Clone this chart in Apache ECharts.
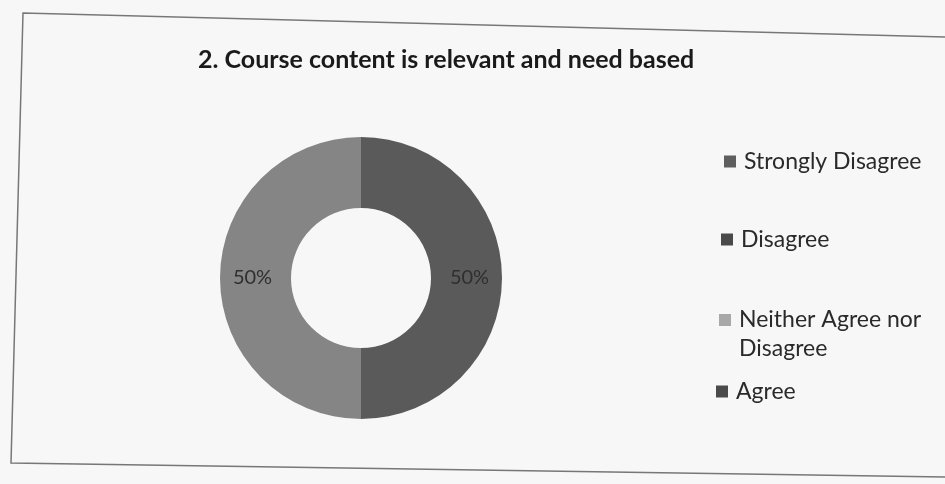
<!DOCTYPE html>
<html>
<head>
<meta charset="utf-8">
<script src="https://cdn.jsdelivr.net/npm/echarts@6/dist/echarts.min.js"></script>
<style>
html,body{margin:0;padding:0;background:#f8f7f7;}
#chart{width:945px;height:484px;}
</style>
</head>
<body>
<div id="chart"></div>
<script>
const titleText = "2. Course content is relevant and need based";
const categories = ["Strongly Disagree", "Disagree", "Neither Agree nor\nDisagree", "Agree"];
const values = [0, 0, 50, 50];
const colors = ["#666666", "#4e4e4e", "#858585", "#5a5a5a"];
const legendColors = ["#5e5e5e", "#4a4a4a", "#a8a8a8", "#4a4a4a"];

const chart = echarts.init(document.getElementById('chart'));
const legendTops = [142, 220, 300, 372];
const legendLefts = [719, 716, 714, 711];
const legends = categories.map((c, i) => ({
  data: [{name: c, itemStyle: {color: legendColors[i]}}],
  left: legendLefts[i],
  top: legendTops[i],
  orient: 'vertical',
  itemWidth: 12,
  itemHeight: i === 2 ? 40 : 12,
  icon: i === 2 ? 'path://M0,0L12,0L12,12L0,12Z M0,40L0.01,40' : 'rect',
  itemGap: 6,
  selectedMode: false,
  textStyle: {fontFamily: 'Lato', fontSize: 23, color: '#2a2a2a', lineHeight: 29, padding: [0, 0, 0, 3]}
}));

chart.setOption({
  backgroundColor: '#f8f7f7',
  title: {
    text: titleText,
    left: 193, top: 42,
    textStyle: {fontFamily: 'Lato', fontWeight: 'bold', fontSize: 25, color: '#1a1a1a'}
  },
  legend: legends,
  graphic: [{
    type: 'polyline',
    shape: {points: [[945, 37], [23, 13], [11, 463], [945, 477]]},
    style: {stroke: '#777', lineWidth: 1.5, fill: null},
    silent: true
  }],
  series: [{
    type: 'pie',
    center: [361, 278],
    radius: [70, 141],
    clockwise: false,
    startAngle: 90,
    avoidLabelOverlap: false,
    data: categories.map((c, i) => ({name: c, value: values[i], itemStyle: {color: colors[i]}})),
    label: {
      show: true,
      position: 'inside',
      formatter: p => p.value > 0 ? p.percent.toFixed(0) + '%' : '',
      fontFamily: 'Lato', fontSize: 20, color: '#2f2f2f'
    },
    labelLine: {show: false},
    emphasis: {disabled: true}
  }]
});
</script>
</body>
</html>
